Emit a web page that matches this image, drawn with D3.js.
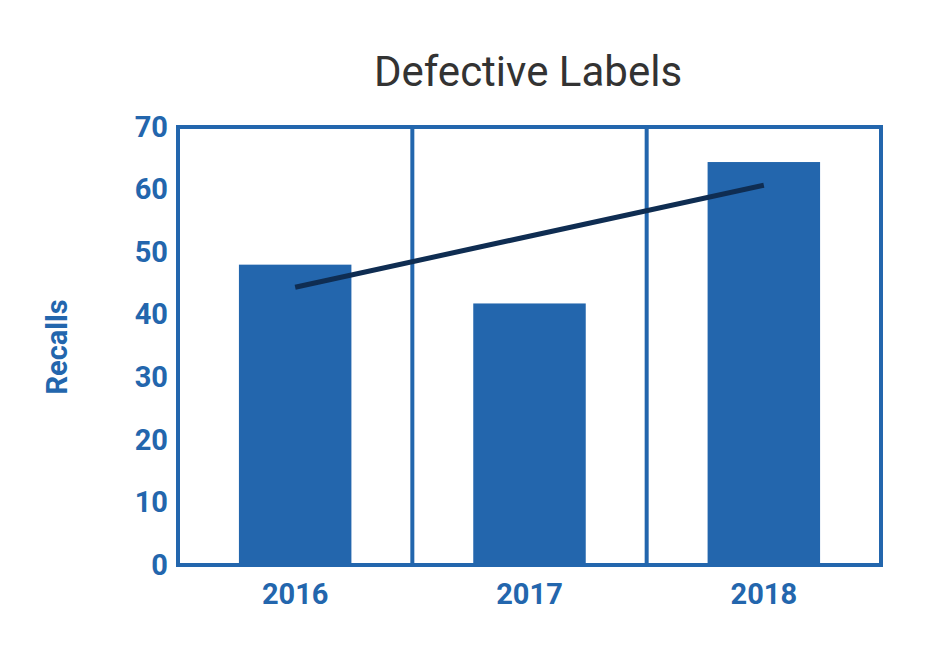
<!DOCTYPE html>
<html><head><meta charset="utf-8">
<script src="https://cdn.jsdelivr.net/npm/d3@7"></script>
<style>body{margin:0;background:#fff}</style></head>
<body><svg id="c" width="940" height="655"></svg>
<script>
const categories = ["2016","2017","2018"];
const recalls = [48, 41.8, 64.4];
const trend = [44.4, 60.7];
const yTicks = [0,10,20,30,40,50,60,70];

const svg = d3.select("#c");
const blue = "#2366ad";
const m = {l:178, r:881, t:127, b:565};
const x = d3.scaleBand().domain(categories).range([m.l, m.r]);
const y = d3.scaleLinear().domain([0,70]).range([m.b, m.t]);

svg.append("text").attr("x",528).attr("y",86).attr("text-anchor","middle")
  .attr("font-family","Roboto").attr("font-size",42).attr("fill","#333").text("Defective Labels");

const bw = x.bandwidth()*0.48;
svg.selectAll("rect.bar").data(categories).join("rect")
  .attr("x",d=>x(d)+x.bandwidth()/2-bw/2).attr("width",bw)
  .attr("y",(d,i)=>y(recalls[i])).attr("height",(d,i)=>m.b-y(recalls[i]))
  .attr("fill",blue);

// frame and dividers
svg.append("rect").attr("x",m.l).attr("y",m.t).attr("width",m.r-m.l).attr("height",m.b-m.t)
  .attr("fill","none").attr("stroke",blue).attr("stroke-width",4);
categories.slice(1).forEach(c=>svg.append("line").attr("x1",x(c)).attr("x2",x(c))
  .attr("y1",m.t).attr("y2",m.b).attr("stroke",blue).attr("stroke-width",4));

svg.append("line")
  .attr("x1",x("2016")+x.bandwidth()/2).attr("y1",y(trend[0]))
  .attr("x2",x("2018")+x.bandwidth()/2).attr("y2",y(trend[1]))
  .attr("stroke","#0f2d52").attr("stroke-width",5);

const ya = svg.append("g").attr("transform",`translate(${m.l},0)`)
  .call(d3.axisLeft(y).tickValues(yTicks).tickSize(0).tickPadding(10));
ya.select(".domain").remove();
ya.selectAll("text").attr("font-family","Roboto").attr("font-weight","bold").attr("font-size",29).attr("fill",blue);

const xa = svg.append("g").attr("transform",`translate(0,${m.b})`)
  .call(d3.axisBottom(x).tickSize(0).tickPadding(18));
xa.select(".domain").remove();
xa.selectAll("text").attr("font-family","Roboto").attr("font-weight","bold").attr("font-size",29).attr("fill",blue);

svg.append("text").attr("transform","translate(67,347) rotate(-90)").attr("text-anchor","middle")
  .attr("font-family","Roboto").attr("font-weight","bold").attr("font-size",29).attr("fill",blue).text("Recalls");
</script></body></html>
